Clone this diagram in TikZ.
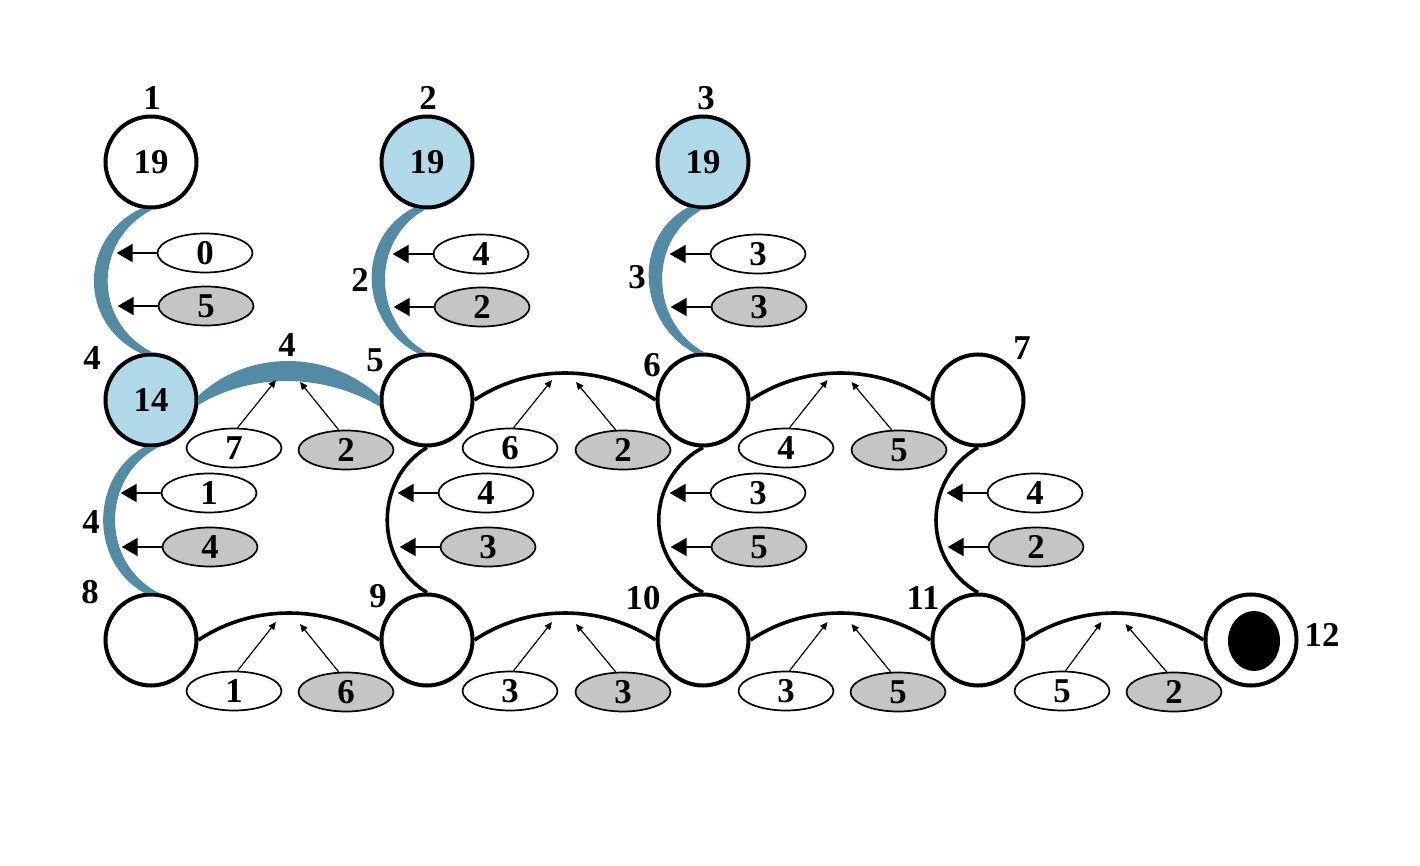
\documentclass[tikz,border=0pt]{standalone}
\usepackage{fontspec}
\setmainfont{Liberation Serif}
\usetikzlibrary{arrows.meta,calc,shapes.geometric}
\definecolor{arcblue}{RGB}{82,139,163}
\definecolor{nodeblue}{RGB}{176,218,234}
\definecolor{wgray}{RGB}{196,197,199}
\tikzset{
  txt/.style={font=\fontsize{17.4}{20}\selectfont\bfseries, inner sep=0pt},
  vtx/.style={circle, draw, line width=2pt, minimum size=45.5pt, inner sep=0pt, fill=white, txt},
  vtxb/.style={vtx, fill=nodeblue},
  wlab/.style={ellipse, draw, line width=0.85pt, minimum width=47.5pt, minimum height=19.5pt, inner sep=0pt, fill=white, txt},
  glab/.style={wlab, fill=wgray},
  blk/.style={line width=1.8pt},
  tarr/.style={line width=0.6pt, -{Triangle[length=3.8pt,width=3.4pt]}},
  varr/.style={line width=1pt, -{Triangle[length=8pt,width=9pt]}},
  cres/.style={fill=arcblue},
}
\begin{document}
\begin{tikzpicture}[x=0.5pt,y=-0.5pt]
\useasboundingbox (0,0) rectangle (1420,866);
% vertices
\node[vtx]  (n1)  at (151,162) {19};
\node[vtxb] (n2)  at (427,162) {19};
\node[vtxb] (n3)  at (703,162) {19};
\node[vtxb] (n4)  at (151,400) {14};
\node[vtx]  (n5)  at (427,400) {};
\node[vtx]  (n6)  at (703,400) {};
\node[vtx]  (n7)  at (978,400) {};
\node[vtx]  (n8)  at (151,640) {};
\node[vtx]  (n9)  at (427,640) {};
\node[vtx]  (n10) at (703,640) {};
\node[vtx]  (n11) at (978,640) {};
\node[vtx]  (n12) at (1251,640) {};
\fill[black] ($(n12)+(3,1)$) ellipse (13pt and 15pt);
% vertex labels
\node[txt] (l1) at (152,98) {1};
\node[txt] (l2) at (428,98) {2};
\node[txt] (l3) at (706,98) {3};
\node[txt] (l4) at (92,358) {4};
\node[txt] (l5) at (375,360) {5};
\node[txt] (l6) at (652,365) {6};
\node[txt] (l7) at (1022,348) {7};
\node[txt] (l8) at (90,592) {8};
\node[txt] (l9) at (378,596) {9};
\node[txt] (l10) at (643,598) {10};
\node[txt] (l11) at (923,598) {11};
\node[txt] (l12) at (1322,635) {12};
% blue crescents (vertical)
\fill[cres] (n1.-102) .. controls +(-63,30) and +(-63,-30) .. (n4.102)
  -- (n4.88) .. controls +(-60,-30) and +(-60,30) .. (n1.-88) -- cycle;
\fill[cres] (n2.-106) .. controls +(-59,30) and +(-59,-30) .. (n5.101)
  -- (n5.90) .. controls +(-55,-30) and +(-55,30) .. (n2.-92) -- cycle;
\fill[cres] (n3.-108) .. controls +(-57,30) and +(-57,-30) .. (n6.100)
  -- (n6.88) .. controls +(-55,-30) and +(-55,30) .. (n3.-91) -- cycle;
\fill[cres] (n4.-98) .. controls +(-55,30) and +(-55,-30) .. (n8.98)
  -- (n8.80) .. controls +(-59,-30) and +(-59,30) .. (n4.-80) -- cycle;
% blue crescent (horizontal)
\fill[cres] (n4.5) .. controls +(50,-47) and +(-50,-47) .. (n5.176)
  -- (n5.188) .. controls +(-55,-33) and +(55,-33) .. (n4.-6) -- cycle;
% black vertical arcs
\draw[blk] (n5.south) .. controls +(-53,32) and +(-53,-32) .. (n9.north);
\draw[blk] (n6.south) .. controls +(-59,32) and +(-59,-32) .. (n10.north);
\draw[blk] (n7.south) .. controls +(-56,32) and +(-56,-32) .. (n11.north);
% black horizontal arcs
\draw[blk] (n5.east) .. controls +(54,-36) and +(-54,-36) .. (n6.west);
\draw[blk] (n6.east) .. controls +(54,-36) and +(-54,-36) .. (n7.west);
\draw[blk] (n8.east) .. controls +(54,-36) and +(-54,-36) .. (n9.west);
\draw[blk] (n9.east) .. controls +(54,-36) and +(-54,-36) .. (n10.west);
\draw[blk] (n10.east) .. controls +(54,-36) and +(-54,-36) .. (n11.west);
\draw[blk] (n11.east) .. controls +(54,-36) and +(-54,-36) .. (n12.west);
% apex coordinates of horizontal edges
\coordinate (a45) at ($(n4)!0.5!(n5)+(0,-27)$);
\coordinate (a56) at ($(n5)!0.5!(n6)+(0,-27)$);
\coordinate (a67) at ($(n6)!0.5!(n7)+(0,-27)$);
\coordinate (a89) at ($(n8)!0.5!(n9)+(0,-25)$);
\coordinate (a910) at ($(n9)!0.5!(n10)+(0,-25)$);
\coordinate (a1011) at ($(n10)!0.5!(n11)+(0,-25)$);
\coordinate (a1112) at ($(n11)!0.5!(n12)+(0,-25)$);
% horizontal edge labels
\node[wlab] (w45) at (234,448) {7};   \node[glab] (g45) at (346,450) {2};
\node[wlab] (w56) at (510,448) {6};   \node[glab] (g56) at (623,450) {2};
\node[wlab] (w67) at (786,448) {4};   \node[glab] (g67) at (899,450) {5};
\node[wlab] (w89) at (234,691) {1};   \node[glab] (g89) at (346,692) {6};
\node[wlab] (w910) at (510,691) {3};  \node[glab] (g910) at (623,692) {3};
\node[wlab] (w1011) at (786,691) {3}; \node[glab] (g1011) at (898,692) {5};
\node[wlab] (w1112) at (1062,691) {5};\node[glab] (g1112) at (1174,692) {2};
\foreach \e in {45,56,67} {
  \draw[tarr] (w\e.80) -- ($(a\e)+(-13,7)$);
  \draw[tarr] (g\e.110) -- ($(a\e)+(11,9)$);
}
\foreach \e in {89,910,1011,1112} {
  \draw[tarr] (w\e.80) -- ($(a\e)+(-13,7)$);
  \draw[tarr] (g\e.110) -- ($(a\e)+(11,9)$);
}
% vertical edge labels
\node[wlab] (w14) at (205,253) {0};   \node[glab] (g14) at (206,306) {5};
\node[wlab] (w25) at (481,254) {4};   \node[glab] (g25) at (482,307) {2};
\node[wlab] (w36) at (758,254) {3};   \node[glab] (g36) at (759,307) {3};
\node[wlab] (w48) at (209,493) {1};   \node[glab] (g48) at (210,547) {4};
\node[wlab] (w59) at (486,493) {4};   \node[glab] (g59) at (488,547) {3};
\node[wlab] (w610) at (758,493) {3};  \node[glab] (g610) at (759,547) {5};
\node[wlab] (w711) at (1035,493) {4}; \node[glab] (g711) at (1036,547) {2};
\foreach \e in {14,25,36,48,59,610,711} {
  \draw[varr] (w\e.west) -- ++(-40,0);
  \draw[varr] (g\e.west) -- ++(-40,0);
}
% edge weights
\node[txt] (e45) at (287,345) {4};
\node[txt] (e25) at (360,280) {2};
\node[txt] (e36) at (637,277) {3};
\node[txt] (e48) at (91,522) {4};
\end{tikzpicture}
\end{document}
